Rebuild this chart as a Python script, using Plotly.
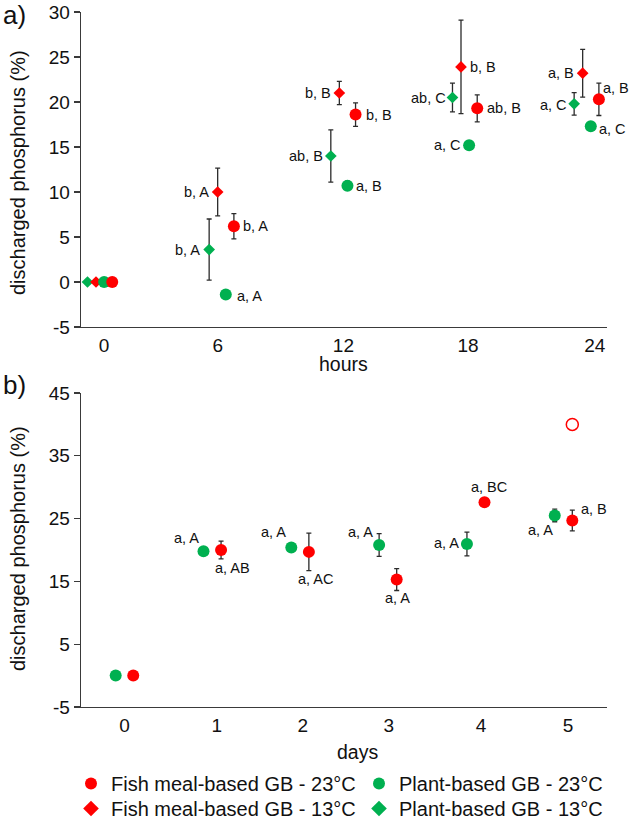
import plotly.graph_objects as go

# ---------------- data ----------------
hours = [0, 6, 12, 18, 24]
hour_ticks = ["0", "6", "12", "18", "24"]
days = [0, 1, 2, 3, 4, 5]
day_ticks = ["0", "1", "2", "3", "4", "5"]
y_ticks_a = [-5, 0, 5, 10, 15, 20, 25, 30]
y_ticks_b = [-5, 5, 15, 25, 35, 45]

# panel a (hours)
fish23_a = [0, 6.2, 18.6, 19.3, 20.3]
fish23_a_err = [None, 1.4, 1.3, 1.5, 1.8]
fish23_a_lbl = ["", "b, A", "b, B", "ab, B", "a, B"]
plant23_a = [0, -1.4, 10.7, 15.2, 17.3]
plant23_a_err = [None, 0.35, 0.5, 0.3, 0.3]
plant23_a_lbl = ["", "a, A", "a, B", "a, C", "a, C"]
fish13_a = [0, 10.0, 21.0, 23.9, 23.2]
fish13_a_err = [None, 2.65, 1.3, 5.2, 2.65]
fish13_a_lbl = ["", "b, A", "b, B", "b, B", "a, B"]
plant13_a = [0, 3.6, 14.0, 20.5, 19.8]
plant13_a_err = [None, 3.4, 2.9, 1.6, 1.25]
plant13_a_lbl = ["", "b, A", "ab, B", "ab, C", "a, C"]

# panel b (days)
fish23_b = [0, 20.0, 19.7, 15.3, 27.6, 24.7]
fish23_b_err = [None, 1.4, 3.0, 1.75, 0.3, 1.65]
fish23_b_lbl = ["", "a, AB", "a, AC", "a, A", "a, BC", "a, B"]
plant23_b = [0, 19.8, 20.4, 20.8, 20.95, 25.5]
plant23_b_err = [None, 0.3, 0.5, 1.8, 1.9, 1.0]
plant23_b_lbl = ["", "a, A", "a, A", "a, A", "a, A", "a, A"]
outlier_day = [5]
outlier_val = [40.0]

names = ["Fish meal-based GB - 23°C", "Plant-based GB - 23°C",
         "Fish meal-based GB - 13°C", "Plant-based GB - 13°C"]

# ---------------- styles / placement ----------------
RED = "#FF0000"
GREEN = "#00B050"
AXC = "#3a3a3a"
TXT = "#111111"
FONT = "Arial, Liberation Sans, sans-serif"

# label placement: (anchor, dx px, dy px, +dy = down)
place_fish23_a = [None, ("left", 9, 0), ("left", 10, 0), ("left", 10, 0), ("left", 4, -11)]
place_plant23_a = [None, ("left", 11, 1), ("left", 9, 0), ("right", -8, 0), ("left", 8, 3)]
place_fish13_a = [None, ("right", -9, 0), ("right", -8, 0), ("left", 9, 0), ("right", -9, 0)]
place_plant13_a = [None, ("right", -9, 0), ("right", -8, 0), ("right", -6, 0), ("right", -7, 1)]
place_fish23_b = [None, ("left", -6, 18), ("left", -11, 27), ("center", 1, 18),
                  ("center", 4, -15), ("left", 9, -11)]
place_plant23_b = [None, ("right", -5, -13), ("right", -5, -15), ("right", -6, -13),
                   ("right", -8, -1), ("right", -2, 15)]

# horizontal offsets of series within a group (axis units)
off_a = {"plant13": -0.62, "fish13": -0.2, "plant23": 0.2, "fish23": 0.6}
off_b = {"plant23": -0.1, "fish23": 0.1}
hour_tick_nudge = [0.2, -0.2, 0.0, 0.15, 0.4]
day_tick_nudge = [0.0, 0.05, 0.03, 0.01, 0.06, 0.05]

# ---------------- layout geometry (px) ----------------
W, H = 629, 820
PL, PR = 81, 607
A_TOP, A_BOT = 12, 327
B_TOP, B_BOT = 393, 707
ML, MR, MT, MB = PL, W - PR, A_TOP, H - B_BOT
PH = H - MT - MB
PW = PR - PL


def fx(px):
    return (px - PL) / PW


def fy(py):
    return (B_BOT - py) / PH


fig = go.Figure()


def err(arr):
    return dict(type="data", array=arr, visible=True, color="#2b2b2b",
                thickness=1.3, width=2.5)


def add_series(xs, ys, errs, off, color, symbol, size, xa, ya):
    fig.add_trace(go.Scatter(
        x=[v + off for v in xs], y=ys, mode="markers",
        marker=dict(color=color, symbol=symbol, size=size, line=dict(width=0)),
        error_y=err(errs), xaxis=xa, yaxis=ya, showlegend=False,
        cliponaxis=False, hoverinfo="skip"))


# panel a series (draw order)
add_series(hours, plant13_a, plant13_a_err, off_a["plant13"], GREEN, "diamond", 9, "x", "y")
add_series(hours, fish13_a, fish13_a_err, off_a["fish13"], RED, "diamond", 9, "x", "y")
add_series(hours, plant23_a, plant23_a_err, off_a["plant23"], GREEN, "circle", 12, "x", "y")
add_series(hours, fish23_a, fish23_a_err, off_a["fish23"], RED, "circle", 12, "x", "y")

# panel b series
add_series(days, plant23_b, plant23_b_err, off_b["plant23"], GREEN, "circle", 12, "x2", "y2")
add_series(days, fish23_b, fish23_b_err, off_b["fish23"], RED, "circle", 12, "x2", "y2")
fig.add_trace(go.Scatter(
    x=[d + off_b["fish23"] for d in outlier_day], y=outlier_val, mode="markers",
    marker=dict(color="rgba(0,0,0,0)", symbol="circle", size=12,
                line=dict(color=RED, width=1.5)),
    xaxis="x2", yaxis="y2", showlegend=False, cliponaxis=False, hoverinfo="skip"))

# legend-only entries (two rows -> two legends)
legend_specs = [(names[0], RED, "circle", "legend"), (names[1], GREEN, "circle", "legend"),
                (names[2], RED, "diamond", "legend2"), (names[3], GREEN, "diamond", "legend2")]
for i, (nm, col, sym, lg) in enumerate(legend_specs):
    fig.add_trace(go.Scatter(x=[None], y=[None], mode="markers", name=nm,
                             marker=dict(color=col, symbol=sym, size=12),
                             xaxis="x", yaxis="y", legend=lg, legendrank=i + 1))

# data labels
annotations = []


def add_labels(xs, ys, labels, places, off, xref, yref):
    for x, y, t, p in zip(xs, ys, labels, places):
        if not t or p is None:
            continue
        anc, dx, dy = p
        annotations.append(dict(
            x=x + off, y=y, xref=xref, yref=yref, text=t, showarrow=False,
            xanchor=anc, yanchor="middle", xshift=dx, yshift=-dy,
            borderpad=0, borderwidth=0,
            font=dict(family=FONT, size=14.5, color=TXT)))


add_labels(hours, fish23_a, fish23_a_lbl, place_fish23_a, off_a["fish23"], "x", "y")
add_labels(hours, plant23_a, plant23_a_lbl, place_plant23_a, off_a["plant23"], "x", "y")
add_labels(hours, fish13_a, fish13_a_lbl, place_fish13_a, off_a["fish13"], "x", "y")
add_labels(hours, plant13_a, plant13_a_lbl, place_plant13_a, off_a["plant13"], "x", "y")
add_labels(days, fish23_b, fish23_b_lbl, place_fish23_b, off_b["fish23"], "x2", "y2")
add_labels(days, plant23_b, plant23_b_lbl, place_plant23_b, off_b["plant23"], "x2", "y2")


def paper_text(text, px, py, size, xanchor="center", angle=0):
    annotations.append(dict(
        x=fx(px), y=fy(py), xref="paper", yref="paper", text=text, showarrow=False,
        xanchor=xanchor, yanchor="middle", textangle=angle, borderpad=0, borderwidth=0,
        font=dict(family=FONT, size=size, color=TXT)))


paper_text("discharged phosphorus (%)", 18, 173, 20, angle=-90)
paper_text("discharged phosphorus (%)", 18, 549, 20, angle=-90)
paper_text("hours", 343, 364, 19.5)
paper_text("days", 357, 752, 19.5)
paper_text("a)", 26, 15, 26, xanchor="right")
paper_text("b)", 26, 385, 26, xanchor="right")

axis_common = dict(showline=True, linecolor=AXC, linewidth=1.3, showgrid=False,
                   zeroline=False, ticklabeloverflow="allow",
                   tickfont=dict(family=FONT, size=19, color=TXT))

legend_common = dict(orientation="h", xanchor="left", yanchor="top",
                     entrywidth=243, entrywidthmode="pixels", itemsizing="constant",
                     font=dict(family=FONT, size=20, color=TXT),
                     bgcolor="rgba(0,0,0,0)", traceorder="normal")

fig.update_layout(
    width=W, height=H,
    margin=dict(l=ML, r=MR, t=MT, b=MB, autoexpand=False),
    paper_bgcolor="white", plot_bgcolor="white",
    font=dict(family=FONT, color=TXT),
    showlegend=True,
    legend=dict(x=fx(71), y=fy(764), **legend_common),
    legend2=dict(x=fx(71), y=fy(789), **legend_common),
    xaxis=dict(domain=[0, 1], anchor="y", range=[-0.94, 25.0],
               tickmode="array", tickvals=[h + n for h, n in zip(hours, hour_tick_nudge)],
               ticktext=hour_ticks, ticks="", ticklabelstandoff=1, **axis_common),
    yaxis=dict(domain=[fy(A_BOT), fy(A_TOP)], anchor="x", range=[-5, 30],
               tickmode="array", tickvals=y_ticks_a, ticktext=[str(v) for v in y_ticks_a],
               ticks="outside", ticklen=6, tickwidth=1.3, tickcolor=AXC, **axis_common),
    xaxis2=dict(domain=[0, 1], anchor="y2", range=[-0.495, 5.495],
                tickmode="array", tickvals=[d + n for d, n in zip(days, day_tick_nudge)],
                ticktext=day_ticks, ticks="", ticklabelstandoff=1, **axis_common),
    yaxis2=dict(domain=[fy(B_BOT), fy(B_TOP)], anchor="x2", range=[-5, 45],
                tickmode="array", tickvals=y_ticks_b, ticktext=[str(v) for v in y_ticks_b],
                ticks="outside", ticklen=6, tickwidth=1.3, tickcolor=AXC, **axis_common),
    annotations=annotations,
)

fig.write_html("out.html", config={"staticPlot": True, "displayModeBar": False},
               post_script="document.body.style.margin='0';")
